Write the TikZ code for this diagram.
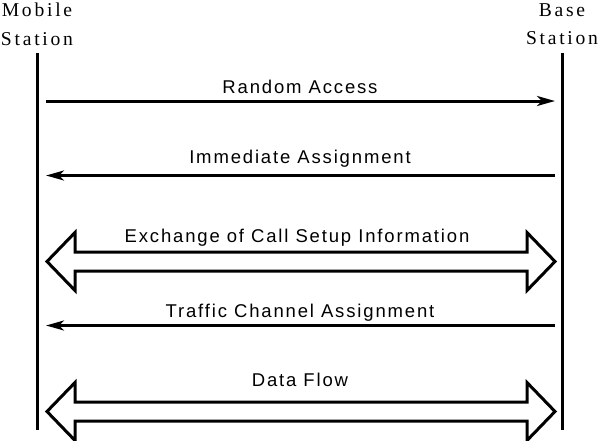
\documentclass[tikz,border=0pt]{standalone}
\usepackage{fontspec}
\setmainfont{Liberation Serif}[LetterSpace=14]
\newfontfamily\lblfont{Liberation Sans}[LetterSpace=10]
\usetikzlibrary{arrows.meta}
\begin{document}
\begin{tikzpicture}[x=1pt,y=-1pt,
  lifeline/.style={line width=3pt},
  msg/.style={line width=3pt,-{Stealth[length=18pt,width=10pt,inset=5pt]}},
  bigarrow/.style={line width=3pt,line join=miter},
  lbl/.style={font=\lblfont\fontsize{18.5}{22}\selectfont,anchor=base,inner sep=0pt},
  hdr/.style={font=\fontsize{19.6}{28.3}\selectfont,align=center,anchor=north,inner sep=0pt}]
\useasboundingbox (0,0) rectangle (598,440);
% headers
\node[hdr] (ms) at (37,3) {Mobile\\Station};
\node[hdr] (bs) at (562,3) {Base\\Station};
% lifelines
\coordinate (ms-top) at (37,53);
\coordinate (ms-bot) at (37,430);
\coordinate (bs-top) at (562,53);
\coordinate (bs-bot) at (562,430);
\draw[lifeline] (ms-top) -- (ms-bot);
\draw[lifeline] (bs-top) -- (bs-bot);
% Random Access
\coordinate (ra-a) at (46,101);
\coordinate (ra-b) at (555,101);
\draw[msg] (ra-a) -- (ra-b);
\node[lbl] (ra) at (300,93) {Random Access};
% Immediate Assignment
\coordinate (ia-a) at (555,175.5);
\coordinate (ia-b) at (46,175.5);
\draw[msg] (ia-a) -- (ia-b);
\node[lbl] (ia) at (300,163) {Immediate Assignment};
% Exchange of Call Setup Information
\draw[bigarrow] (47,261.5) -- (75,232.5) -- (75,252) -- (527,252) -- (527,232.5)
  -- (555,261.5) -- (527,290.5) -- (527,271) -- (75,271) -- (75,290.5) -- cycle;
\node[lbl] (ex) at (297,242) {Exchange of Call Setup Information};
% Traffic Channel Assignment
\coordinate (tc-a) at (555,325.5);
\coordinate (tc-b) at (46,325.5);
\draw[msg] (tc-a) -- (tc-b);
\node[lbl] (tc) at (300,317) {Traffic Channel Assignment};
% Data Flow
\draw[bigarrow] (47,411.5) -- (75,382.5) -- (75,402) -- (527,402) -- (527,382.5)
  -- (555,411.5) -- (527,440.5) -- (527,421) -- (75,421) -- (75,440.5) -- cycle;
\node[lbl] (df) at (300,386) {Data Flow};
\end{tikzpicture}
\end{document}
